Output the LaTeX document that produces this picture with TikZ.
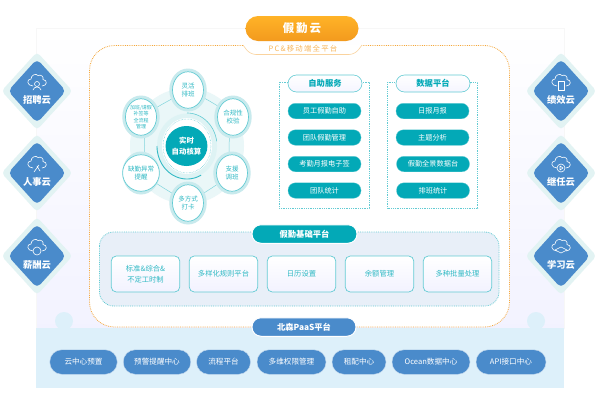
\documentclass[tikz,border=0pt]{standalone}
\usepackage{fontspec}
\setmainfont{Noto Sans CJK SC}
\usetikzlibrary{shapes.geometric}
\definecolor{teal1}{HTML}{03A9B7}
\definecolor{teal2}{HTML}{63CBD3}
\definecolor{tealtx}{HTML}{2FB9C4}
\definecolor{halo}{HTML}{C8EAED}
\definecolor{faint}{HTML}{EAF7F8}
\definecolor{blue1}{HTML}{4A8BCB}
\definecolor{band}{HTML}{DDF0FA}
\definecolor{orange1}{HTML}{F5A83C}
\definecolor{orangetop}{HTML}{FFB327}
\definecolor{orangebot}{HTML}{F39A1E}
\definecolor{basebg}{HTML}{E8EFF8}
\definecolor{dmdbg}{HTML}{E2F3F3}
\tikzset{
  x=1pt,y=-1pt,
  tealbtn/.style={rounded corners=7.5,fill=teal1,draw=teal2,line width=.3,text=white,font=\fontsize{7.2}{9}\selectfont,minimum width=73,minimum height=15.5,inner sep=0},
  headpill/.style={rounded corners=8.5,fill=white,draw=teal2,line width=.6,top color=white,bottom color=blue!4,text=teal1,font=\fontsize{8.3}{10}\bfseries\selectfont,minimum width=74,minimum height=17,inner sep=0},
  dotbox/.style={draw=teal2,densely dotted,line width=.8},
  basebox/.style={rounded corners=5,draw=teal2,line width=.7,top color=white,bottom color=blue!5,text=tealtx,font=\fontsize{7.3}{11}\selectfont,minimum width=68.5,minimum height=36,inner sep=0,align=center},
  bluepill/.style={rounded corners=12,fill=blue1,draw=white!70!blue1,line width=.4,text=white,font=\fontsize{7.6}{9}\selectfont,minimum height=24.5,inner sep=0},
  sat/.style={ellipse,fill=white,draw=teal2,line width=.7,minimum width=31,minimum height=36.5,inner sep=0,text=tealtx,align=center,font=\fontsize{6.5}{8.5}\selectfont},
  sathalo/.style={fill=halo},
  satline/.style={draw=teal2!80,line width=.5},
  icon/.style={draw=white,line width=.6,line join=round,line cap=round},
  dmdtext/.style={text=white,font=\fontsize{9.3}{10}\bfseries\selectfont,inner sep=0},
  platpill/.style={rounded corners=9,draw=white,line width=1,text=white,font=\fontsize{8.3}{10}\bfseries\selectfont,minimum width=105,minimum height=18.5,inner sep=0}
}
\newcommand\cloudico[2]{%
  \draw[icon,shift={(#1,#2)}] (-4,5) .. controls (-10,5) and (-11,-2) .. (-6,-2)
    .. controls (-6,-6) and (-1,-8) .. (1,-5.5) .. controls (4,-7) and (7,-4) .. (6,-1.5)
    .. controls (11,-1) and (10,5) .. (5,5);}
\newcommand\dmd[5]{%
  \fill[dmdbg,rounded corners=4,shift={(#1,#2)}] (0,-39) -- (35.5,0) -- (0,39) -- (-35.5,0) -- cycle;
  \fill[blue1,rounded corners=5,shift={(#1,#2)}] (0,-32) -- (29,0) -- (0,32) -- (-29,0) -- cycle;
  \cloudico{#1}{#2-10}
  \begin{scope}[shift={(#1,#2-8)}] #5 \end{scope}
  \node[dmdtext] (#3) at (#1,#2+9) {#4};}
\begin{document}
\begin{tikzpicture}
\useasboundingbox (0,0) rectangle (600,400);
\fill[white] (0,0) rectangle (600,400);
% back panel
\shade[top color=white,bottom color=blue!5] (36,28) rectangle (564,329);
\draw[black!3,line width=.6] (36,329) -- (36,28) -- (564,28) -- (564,329);
\fill[band] (36,328) rectangle (564,388);
\fill[band] (64,321) circle[radius=9];
\fill[band] (536,321) circle[radius=9];
% main dotted frame
\fill[white,rounded corners=25] (89.5,45.5) rectangle (509.5,327);
\draw[orange1,densely dotted,line width=.8,rounded corners=25]
  (243,45.5) -- (89.5,45.5) -- (89.5,327) -- (252,327);
\draw[orange1,densely dotted,line width=.8,rounded corners=25]
  (361,45.5) -- (509.5,45.5) -- (509.5,327) -- (356,327);
% title
\draw[orange1!50,line width=.6,fill=white,rounded corners=6] (243,45) -- (250,54.5) -- (355,54.5) -- (362,45);
\node[text=orange1!85,font=\fontsize{7.4}{9}\selectfont,inner sep=0] (subtitle) at (303,48.5) {P\,C\,\&\,移\,动\,端\,全\,平\,台};
\node[rounded corners=12.5,top color=orangetop,bottom color=orangebot,minimum width=113,minimum height=25,inner sep=0,text=white,font=\fontsize{11.5}{13}\bfseries\selectfont] (title) at (302,28.5) {假\,勤\,云};
% diamonds
\dmd{37}{91}{d1}{招聘云}{\draw[icon] (0,1) circle[radius=2.5]; \draw[icon] (-4,7) .. controls (-3,3) and (3,3) .. (4,7);}
\dmd{37}{173}{d2}{人事云}{\draw[icon] (-3,7) -- (2,0) (0,1) -- (3,6);}
\dmd{37}{256}{d3}{薪酬云}{\draw[icon] (0,3) circle[radius=4];}
\dmd{561}{91}{d4}{绩效云}{\draw[icon] (-3,-2) rectangle (3,7);}
\dmd{561}{173}{d5}{继任云}{\draw[icon] (0,3) circle[radius=4]; \draw[icon] (-1,1) -- (2,3) -- (-1,5) -- cycle;}
\dmd{561}{256}{d6}{学习云}{\draw[icon] (-6,2) -- (0,-1) -- (6,2) -- (0,5) -- cycle;}
% ring graphic
\fill[faint] (187,146) ellipse[x radius=57,y radius=58];
\coordinate (s1) at (188,90);
\coordinate (s2) at (233,117);
\coordinate (s3) at (232,173);
\coordinate (s4) at (188,203);
\coordinate (s5) at (141,173);
\coordinate (s6) at (141,117);
\draw[satline] (s1) .. controls (203,97) and (218,105) .. (s2);
\draw[satline] (s2) .. controls (228,135) and (228,157) .. (s3);
\draw[satline] (s3) .. controls (218,185) and (205,192) .. (s4);
\draw[satline] (s4) .. controls (172,193) and (158,185) .. (s5);
\draw[satline] (s5) .. controls (146,157) and (146,135) .. (s6);
\draw[satline] (s6) .. controls (158,106) and (172,99) .. (s1);
\foreach \c in {s1,s2,s3,s4,s5,s6} \fill[sathalo] (\c) ellipse[x radius=18.7,y radius=21.5];
\node[sat] (n1) at (s1) {灵活\\排班};
\node[sat] (n2) at (s2) {合规性\\校验};
\node[sat] (n3) at (s3) {支援\\调班};
\node[sat] (n4) at (s4) {多方式\\打卡};
\node[sat] (n5) at (s5) {缺勤异常\\提醒};
\node[sat,font=\fontsize{5}{6.6}\selectfont] (n6) at (s6) {加班/请假\\补签等\\全流程\\管理};
\fill[halo!60] (187,146) ellipse[x radius=30,y radius=32.5];
\fill[white] (187,146) ellipse[x radius=25,y radius=28];
\draw[teal2,densely dotted,line width=.5] (187,146) ellipse[x radius=24,y radius=27];
\draw[teal2,line width=.6] plot[domain=-90:-8,samples=30,smooth] ({187+30*cos(\x)},{146+33*sin(\x)});
\draw[teal1!80,line width=.9] plot[domain=180:62,samples=40,smooth] ({187+30*cos(\x)},{146+33*sin(\x)});
\node[ellipse,fill=teal1,minimum width=35,minimum height=40,inner sep=0,text=white,align=center,font=\fontsize{7.4}{10.5}\bfseries\selectfont] (core) at (186.5,146) {实时\\自动核算};
% service panels
\draw[dotbox] (279,82) rectangle (369,208);
\draw[dotbox] (387.5,82) rectangle (477.5,208);
\node[headpill] (h1) at (325,83.5) {自助服务};
\node[headpill] (h2) at (433,83.5) {数据平台};
\node[tealbtn] (a1) at (324.5,111) {员工假勤自助};
\node[tealbtn] (a2) at (324.5,137.5) {团队假勤管理};
\node[tealbtn] (a3) at (324.5,164) {考勤月报电子签};
\node[tealbtn] (a4) at (324.5,190.5) {团队统计};
\node[tealbtn] (b1) at (432.5,111) {日报月报};
\node[tealbtn] (b2) at (432.5,137.5) {主题分析};
\node[tealbtn] (b3) at (433,164) {假勤全景数据台};
\node[tealbtn] (b4) at (433,190.5) {排班统计};
% base platform
\draw[dotbox,fill=basebg,rounded corners=14] (99.5,232) rectangle (499,306);
\node[platpill,fill=teal1] (basehead) at (304.5,234) {假勤基础平台};
\node[basebox] (c1) at (145.5,274) {标准\&综合\&\\不定工时制};
\node[basebox] (c2) at (223.5,274) {多样化规则平台};
\node[basebox] (c3) at (301.5,274) {日历设置};
\node[basebox] (c4) at (379.5,274) {余额管理};
\node[basebox] (c5) at (457.5,274) {多种批量处理};
% paas
\node[platpill,fill=blue1,minimum width=104] (paas) at (304,327) {北森PaaS平台};
\node[bluepill,minimum width=67.5] (p1) at (83.5,362) {云中心预置};
\node[bluepill,minimum width=67.5] (p2) at (157,362) {预警提醒中心};
\node[bluepill,minimum width=54] (p3) at (223.5,362) {流程平台};
\node[bluepill,minimum width=69] (p4) at (291.5,362) {多维权限管理};
\node[bluepill,minimum width=54] (p5) at (359,362) {租配中心};
\node[bluepill,minimum width=78] (p6) at (431,362) {Ocean数据中心};
\node[bluepill,minimum width=70] (p7) at (511,362) {API接口中心};
\end{tikzpicture}
\end{document}
